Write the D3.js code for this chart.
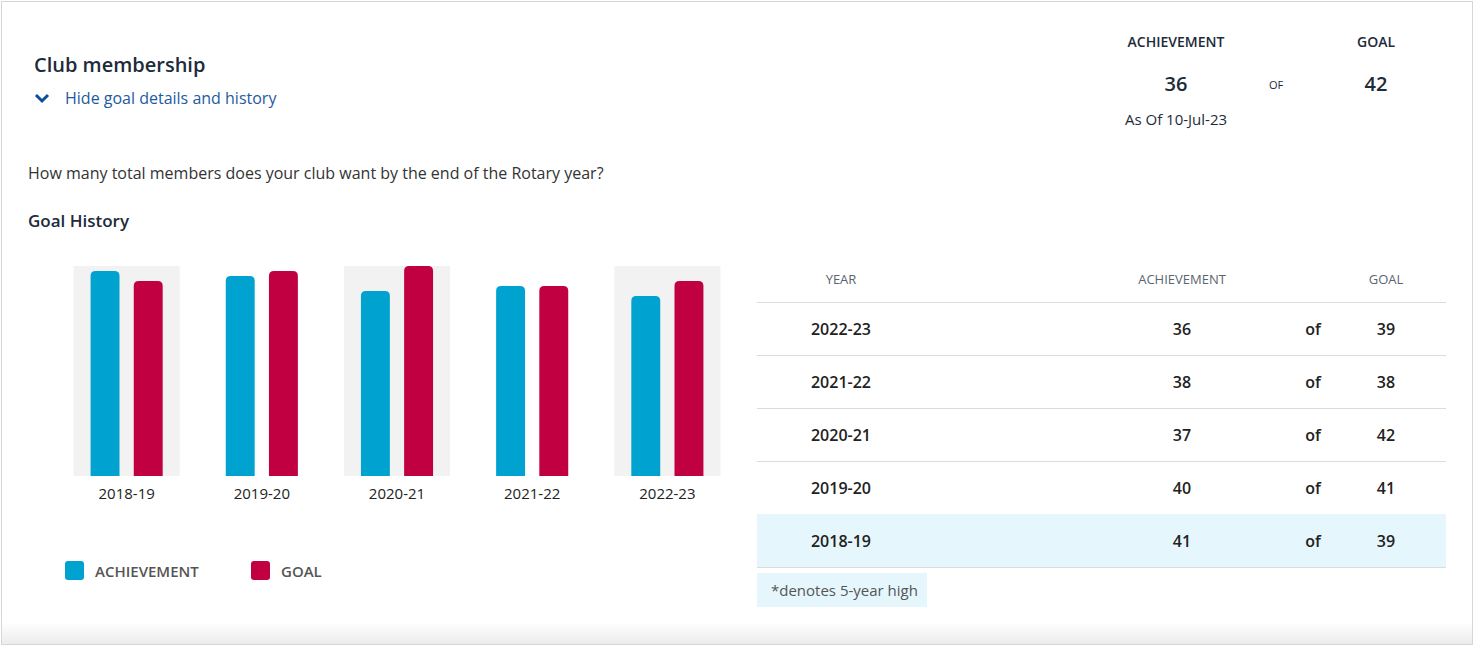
<!DOCTYPE html>
<html>
<head>
<meta charset="utf-8">
<script src="https://cdn.jsdelivr.net/npm/d3@7"></script>
<style>
  body { margin: 0; background: #fff; font-family: "Open Sans", sans-serif; }
  text { font-family: "Open Sans", sans-serif; }
</style>
</head>
<body>
<div id="chart"></div>
<script>
const years = ["2018-19", "2019-20", "2020-21", "2021-22", "2022-23"];
const achievement = [41, 40, 37, 38, 36];
const goal = [39, 41, 42, 38, 39];
const tableYears = ["2022-23", "2021-22", "2020-21", "2019-20", "2018-19"];
const highYear = "2018-19";

const width = 1474, height = 649;
const svg = d3.select('#chart').append('svg')
  .attr('width', width).attr('height', height);

// card frame
svg.append('rect').attr('x', 1.5).attr('y', 1.5).attr('width', width - 3).attr('height', height - 6)
  .attr('fill', '#fff').attr('stroke', '#d6d6d6');
const grad = svg.append('defs').append('linearGradient').attr('id', 'sh').attr('x1', 0).attr('y1', 0).attr('x2', 0).attr('y2', 1);
grad.append('stop').attr('offset', 0).attr('stop-color', '#fff');
grad.append('stop').attr('offset', 1).attr('stop-color', '#ececec');
svg.append('rect').attr('x', 2).attr('y', 622).attr('width', width - 4).attr('height', 22).attr('fill', 'url(#sh)');

// header
svg.append('text').attr('x', 34).attr('y', 72).attr('font-size', 20).attr('font-weight', 600)
  .attr('fill', '#1d2b3a').text('Club membership');
svg.append('path').attr('d', 'M36,95 L42,101 L48,95').attr('fill', 'none')
  .attr('stroke', '#0b4f9c').attr('stroke-width', 3);
svg.append('text').attr('x', 65).attr('y', 104).attr('font-size', 16).attr('fill', '#1e5aa0')
  .text('Hide goal details and history');

const hdr = [
  {x: 1176, y: 47, s: 14, w: 600, t: 'ACHIEVEMENT'},
  {x: 1376, y: 47, s: 14, w: 600, t: 'GOAL'},
  {x: 1176, y: 91, s: 20, w: 600, t: String(achievement[achievement.length - 1])},
  {x: 1276, y: 89, s: 11, w: 400, t: 'OF'},
  {x: 1376, y: 91, s: 20, w: 600, t: String(42)},
  {x: 1176, y: 125, s: 15, w: 400, t: 'As Of 10-Jul-23'}
];
svg.selectAll('.hdr').data(hdr).enter().append('text')
  .attr('x', d => d.x).attr('y', d => d.y).attr('font-size', d => d.s).attr('font-weight', d => d.w)
  .attr('text-anchor', 'middle').attr('fill', '#1d2b3a').text(d => d.t);

svg.append('text').attr('x', 28).attr('y', 179).attr('font-size', 16).attr('fill', '#333')
  .text('How many total members does your club want by the end of the Rotary year?');
svg.append('text').attr('x', 28).attr('y', 227).attr('font-size', 17).attr('font-weight', 600)
  .attr('fill', '#1d2b3a').text('Goal History');

// bar chart
const x = d3.scaleBand().domain(years).range([56, 738]).paddingInner(0.215).paddingOuter(0.13);
const y = d3.scaleLinear().domain([0, 42]).range([476, 266]);
const inner = d3.scaleBand().domain(['a', 'g']).range([17, x.bandwidth() - 17]).paddingInner(0.33);

const g = svg.append('g');
const groups = g.selectAll('.grp').data(years).enter().append('g')
  .attr('transform', d => `translate(${x(d)},0)`);
groups.filter((d, i) => i % 2 === 0).append('rect')
  .attr('x', 0).attr('y', y(42)).attr('width', x.bandwidth()).attr('height', y(0) - y(42))
  .attr('fill', '#f2f2f2');

function bar(sel, key, vals, color) {
  sel.append('path').attr('fill', color).attr('d', (d, i) => {
    const x0 = inner(key), w = inner.bandwidth(), top = y(vals[i]), b = y(0), r = 5;
    return `M${x0},${b} L${x0},${top + r} Q${x0},${top} ${x0 + r},${top} L${x0 + w - r},${top} Q${x0 + w},${top} ${x0 + w},${top + r} L${x0 + w},${b} Z`;
  });
}
bar(groups, 'a', achievement, '#00a2d0');
bar(groups, 'g', goal, '#c10042');

const xAxis = g.append('g').attr('transform', 'translate(0,476)').call(d3.axisBottom(x).tickSize(0).tickPadding(12));
xAxis.select('.domain').remove();
xAxis.selectAll('text').attr('font-size', 15).attr('fill', '#222').attr('font-family', '"Open Sans", sans-serif');

// legend
const legend = [{t: 'ACHIEVEMENT', c: '#00a2d0', x: 65}, {t: 'GOAL', c: '#c10042', x: 251}];
const lg = svg.selectAll('.lg').data(legend).enter().append('g').attr('transform', d => `translate(${d.x},561)`);
lg.append('rect').attr('width', 19).attr('height', 19).attr('rx', 3).attr('fill', d => d.c);
lg.append('text').attr('x', 30).attr('y', 16).attr('font-size', 15).attr('font-weight', 600)
  .attr('fill', '#555').text(d => d.t);

// table
const rowY = d3.scaleBand().domain(tableYears).range([302, 567]);
const t = svg.append('g');
const cols = {year: 841, ach: 1182, of: 1313, goal: 1386};
[['YEAR', cols.year], ['ACHIEVEMENT', cols.ach], ['GOAL', cols.goal]].forEach(([txt, cx]) =>
  t.append('text').attr('x', cx).attr('y', 284).attr('text-anchor', 'middle').attr('font-size', 13)
    .attr('fill', '#5a6570').text(txt));
const rows = t.selectAll('.row').data(tableYears).enter().append('g')
  .attr('transform', d => `translate(0,${rowY(d)})`);
rows.filter(d => d === highYear).append('rect').attr('x', 757).attr('y', 0)
  .attr('width', 689).attr('height', rowY.bandwidth()).attr('fill', '#e5f7fd');
t.append('line').attr('x1', 757).attr('x2', 1446).attr('y1', 302.5).attr('y2', 302.5).attr('stroke', '#dcdcdc');
rows.append('line').attr('x1', 757).attr('x2', 1446).attr('y1', rowY.bandwidth() + 0.5).attr('y2', rowY.bandwidth() + 0.5)
  .attr('stroke', '#dcdcdc');
const idx = d => years.indexOf(d);
const cells = [
  {x: cols.year, f: d => d},
  {x: cols.ach, f: d => achievement[idx(d)]},
  {x: cols.of, f: () => 'of'},
  {x: cols.goal, f: d => goal[idx(d)]}
];
cells.forEach(c => rows.append('text').attr('x', c.x).attr('y', rowY.bandwidth() / 2 + 6)
  .attr('text-anchor', 'middle').attr('font-size', 16).attr('font-weight', 600).attr('fill', '#222').text(c.f));

svg.append('rect').attr('x', 757).attr('y', 573).attr('width', 170).attr('height', 34).attr('fill', '#e5f7fd');
svg.append('text').attr('x', 771).attr('y', 596).attr('font-size', 15).attr('fill', '#555').text('*denotes 5-year high');
</script>
</body>
</html>
